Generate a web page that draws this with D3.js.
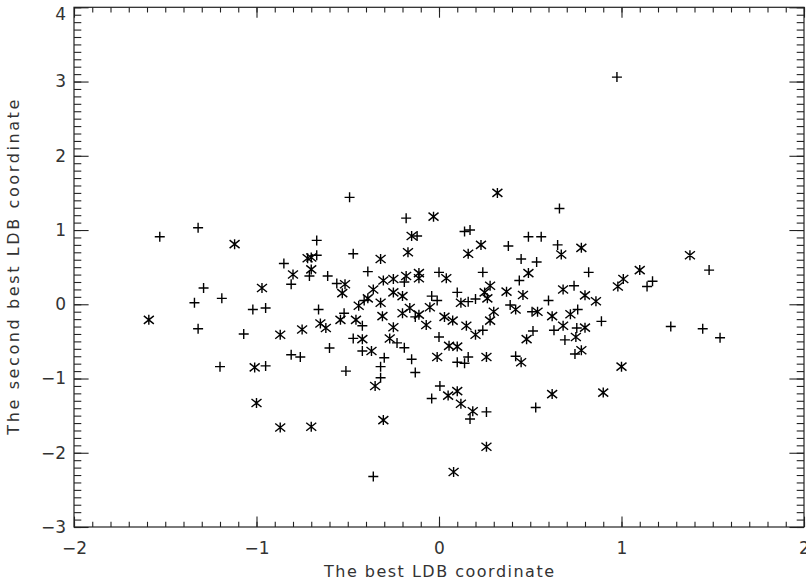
<!DOCTYPE html>
<html>
<head>
<meta charset="utf-8">
<script src="https://cdn.jsdelivr.net/npm/d3@7"></script>
<style>
  html, body { margin: 0; padding: 0; background: #fff; }
  svg { display: block; }
  text { font-family: "DejaVu Sans", sans-serif; fill: #333; }
</style>
</head>
<body>
<svg id="chart" width="806" height="583"></svg>
<script>
// ---- data ----
const plusX = [-1.53,-1.32,-0.67,-0.67,-0.85,-0.71,-0.81,-0.61,-0.56,-1.29,-1.34,-1.19,-1.02,-0.95,-0.66,-1.32,-1.07,-0.60,-0.81,-0.76,-1.20,-0.95,
  -0.49,-0.18,-0.12,0.14,0.17,0.49,0.38,-0.47,0.45,-0.39,0.00,0.24,-0.19,0.44,-0.04,-0.01,0.10,0.20,0.16,0.39,-0.41,-0.52,-0.13,0.51,-0.42,0.24,0.515,
  -0.47,-0.23,0.00,-0.42,-0.19,-0.30,-0.15,0.16,0.10,0.14,0.42,-0.51,-0.32,-0.13,-0.32,0.005,-0.04,0.26,0.17,-0.36,
  0.66,0.56,0.65,0.535,0.82,1.48,1.17,1.14,0.74,0.60,0.76,0.89,1.27,1.445,1.54,0.63,0.755,0.69,0.745,0.53,0.975];
const plusY = [0.91,1.03,0.86,0.66,0.55,0.38,0.27,0.38,0.28,0.22,0.02,0.08,-0.07,-0.05,-0.07,-0.33,-0.40,-0.59,-0.68,-0.71,-0.84,-0.83,
  1.44,1.16,0.92,0.98,1.00,0.91,0.785,0.68,0.61,0.44,0.43,0.43,0.30,0.32,0.11,0.05,0.16,0.07,0.035,-0.01,0.05,-0.12,-0.17,-0.10,-0.29,-0.35,-0.36,
  -0.46,-0.52,-0.44,-0.63,-0.585,-0.72,-0.74,-0.71,-0.78,-0.795,-0.70,-0.90,-0.84,-0.92,-0.99,-1.10,-1.27,-1.45,-1.545,-2.32,
  1.29,0.91,0.80,0.57,0.43,0.46,0.31,0.24,0.25,0.05,-0.07,-0.23,-0.30,-0.33,-0.45,-0.35,-0.32,-0.48,-0.67,-1.39,3.06];

const starX = [-1.12,-0.72,-0.70,-0.70,-0.80,-0.97,-1.59,-0.65,-0.62,-0.75,-0.87,-1.01,-1.00,-0.87,-0.70,
  0.32,-0.03,-0.15,0.23,-0.17,0.16,-0.32,-0.515,-0.53,-0.305,-0.25,-0.18,-0.11,-0.11,0.04,0.49,-0.36,-0.25,-0.20,-0.39,-0.44,-0.32,-0.31,-0.16,-0.20,-0.11,-0.07,-0.05,
  -0.54,-0.455,-0.25,-0.42,-0.27,0.28,0.25,0.265,0.37,0.46,0.12,0.30,0.42,0.03,0.075,0.28,0.15,0.20,0.48,0.055,0.10,-0.01,0.26,0.45,-0.35,0.05,0.10,0.12,0.185,-0.305,0.26,0.08,-0.37,
  0.67,0.78,1.375,1.10,1.01,0.98,0.68,0.80,0.86,0.54,0.62,0.72,0.68,0.80,0.75,0.78,1.00,0.62,0.90];
const starY = [0.81,0.62,0.63,0.47,0.40,0.22,-0.21,-0.26,-0.32,-0.34,-0.41,-0.85,-1.33,-1.66,-1.65,
  1.50,1.18,0.92,0.80,0.70,0.68,0.61,0.27,0.15,0.32,0.34,0.38,0.42,0.35,0.35,0.42,0.20,0.16,0.11,0.08,-0.02,0.02,-0.16,-0.05,-0.12,-0.14,-0.28,-0.04,
  -0.21,-0.21,-0.31,-0.47,-0.46,0.25,0.16,0.08,0.17,0.125,0.02,-0.10,-0.07,-0.17,-0.22,-0.22,-0.29,-0.41,-0.47,-0.56,-0.57,-0.71,-0.71,-0.78,-1.10,-1.23,-1.17,-1.34,-1.44,-1.56,-1.92,-2.26,-0.63,
  0.67,0.76,0.66,0.46,0.34,0.24,0.20,0.12,0.04,-0.10,-0.16,-0.135,-0.29,-0.315,-0.44,-0.62,-0.84,-1.21,-1.19];

const xTickValues = [-2,-1,0,1,2];
const yTickValues = [-3,-2,-1,0,1,2,3,4];
const xTitle = "The best LDB coordinate";
const yTitle = "The second best LDB coordinate";

// ---- layout ----
const W = 806, H = 583;
const L = 74, R = 804, T = 7.3, B = 527;
const svg = d3.select("#chart");

const x = d3.scaleLinear().domain([-2, 2]).range([L, R]);
const y = d3.scaleLinear().domain([-3, 4]).range([B, T]);

const xMinor = d3.range(-2, 2.0001, 0.1).map(v => +v.toFixed(2));
const yMinor = d3.range(-3, 4.0001, 0.1).map(v => +v.toFixed(2));

const fmt = d => (d < 0 ? "\u2212" + Math.abs(d) : String(d));
const axisColor = "#222";
const xMaj = 10.4, xMin = 5.2, yMaj = 14.6, yMin = 7.3;

function styleAxis(g) {
  g.select(".domain").remove();
  g.selectAll("line").attr("stroke", axisColor).attr("stroke-width", 1.1);
  g.selectAll("text").attr("fill", "#333").style("font-size", "17px").style("font-family", "DejaVu Sans, sans-serif");
}

// bottom
svg.append("g").attr("transform", `translate(0,${B})`)
  .call(d3.axisBottom(x).tickValues(xMinor).tickSize(-xMin).tickFormat("")).call(styleAxis);
svg.append("g").attr("transform", `translate(0,${B})`)
  .call(d3.axisBottom(x).tickValues(xTickValues).tickSize(-xMaj).tickPadding(15).tickFormat(fmt)).call(styleAxis);
// top
svg.append("g").attr("transform", `translate(0,${T})`)
  .call(d3.axisTop(x).tickValues(xMinor).tickSize(-xMin).tickFormat("")).call(styleAxis);
svg.append("g").attr("transform", `translate(0,${T})`)
  .call(d3.axisTop(x).tickValues(xTickValues).tickSize(-xMaj).tickFormat("")).call(styleAxis);
// left
svg.append("g").attr("transform", `translate(${L},0)`)
  .call(d3.axisLeft(y).tickValues(yMinor).tickSize(-yMin).tickFormat("")).call(styleAxis);
const leftMaj = svg.append("g").attr("transform", `translate(${L},0)`)
  .call(d3.axisLeft(y).tickValues(yTickValues).tickSize(-yMaj).tickPadding(8).tickFormat(fmt)).call(styleAxis);
leftMaj.selectAll(".tick").filter(d => d === 4).select("text").attr("y", 7);
// right
svg.append("g").attr("transform", `translate(${R},0)`)
  .call(d3.axisRight(y).tickValues(yMinor).tickSize(-yMin).tickFormat("")).call(styleAxis);
svg.append("g").attr("transform", `translate(${R},0)`)
  .call(d3.axisRight(y).tickValues(yTickValues).tickSize(-yMaj).tickFormat("")).call(styleAxis);

// frame
svg.append("rect").attr("x", L).attr("y", T).attr("width", R - L).attr("height", B - T)
  .attr("fill", "none").attr("stroke", axisColor).attr("stroke-width", 1.2);

// titles
svg.append("text").attr("x", (L + R) / 2).attr("y", 577).attr("text-anchor", "middle")
  .attr("textLength", 230).attr("lengthAdjust", "spacing")
  .style("font-size", "16px").text(xTitle);
svg.append("text").attr("transform", `translate(19,${(T + B) / 2}) rotate(-90)`).attr("text-anchor", "middle")
  .attr("textLength", 335).attr("lengthAdjust", "spacing")
  .style("font-size", "16px").text(yTitle);

// symbols
const s = 5;
const plusPath = `M${-s},0H${s}M0,${-s}V${s}`;
const starPath = `M0,${-s}V${s}M${-s},${-4}L${s},${4}M${-s},${4}L${s},${-4}`;

const plusData = plusX.map((v, i) => [v, plusY[i]]);
const starData = starX.map((v, i) => [v, starY[i]]);

svg.append("g").selectAll("path").data(plusData).join("path")
  .attr("d", plusPath).attr("transform", d => `translate(${x(d[0])},${y(d[1])})`)
  .attr("stroke", "#000").attr("stroke-width", 1.4).attr("fill", "none");
svg.append("g").selectAll("path").data(starData).join("path")
  .attr("d", starPath).attr("transform", d => `translate(${x(d[0])},${y(d[1])})`)
  .attr("stroke", "#000").attr("stroke-width", 1.4).attr("fill", "none");
</script>
</body>
</html>
